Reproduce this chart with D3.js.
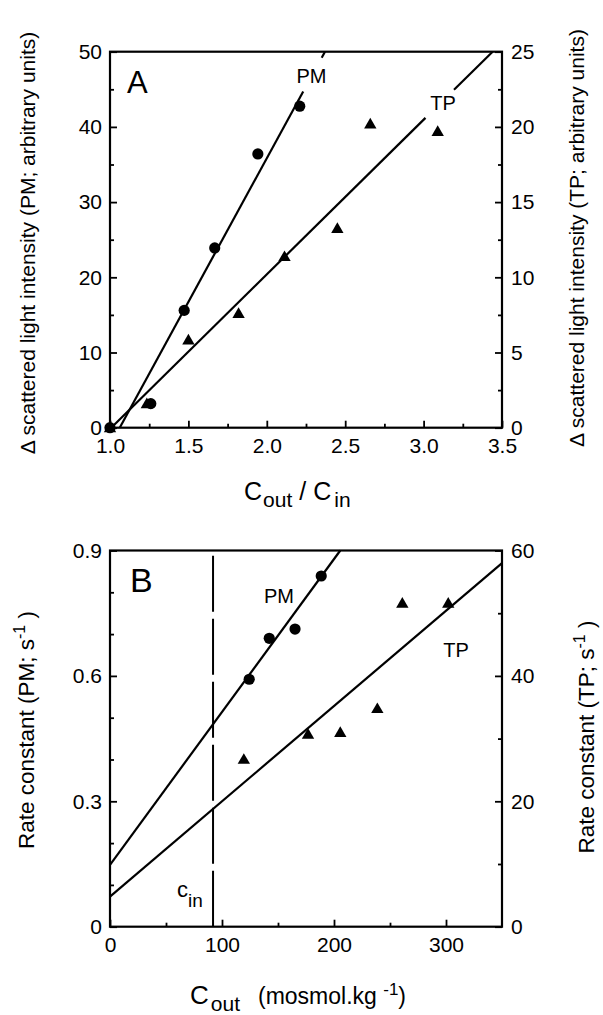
<!DOCTYPE html>
<html><head><meta charset="utf-8">
<script src="https://cdn.jsdelivr.net/npm/d3@7"></script>
<style>
html,body{margin:0;padding:0;background:#fff;}
svg{display:block;font-family:"Liberation Sans",Arial,Helvetica,sans-serif;}
</style></head>
<body>
<script>
// ---------- Panel A data ----------
const aPM_x = [1.0, 1.26, 1.473, 1.668, 1.943, 2.21];
const aPM_y = [0, 3.2, 15.6, 23.9, 36.4, 42.75];
const aTP_x = [1.0, 1.235, 1.50, 1.82, 2.113, 2.45, 2.66, 3.09];
const aTP_y = [0, 1.6, 5.84, 7.6, 11.38, 13.25, 20.2, 19.7];
const aFitPM = [[1.062, 0], [2.371, 50]];        // PM units
const aFitTP = [[1.008, 0], [3.44, 25]];         // TP units
const aGapPM = [44.7, 49.2];                      // PM-unit y range hidden by label
const aGapTP = [20.6, 22.47];                     // TP-unit y range hidden by label
const aXTicks = [1.0, 1.5, 2.0, 2.5, 3.0, 3.5];
const aXMinor = [1.25, 1.75, 2.25, 2.75, 3.25];
const aYTicks = [0, 10, 20, 30, 40, 50];
const aYMinor = [5, 15, 25, 35, 45];
const aY2Ticks = [0, 5, 10, 15, 20, 25];
const aY2Minor = [2.5, 7.5, 12.5, 17.5, 22.5];

// ---------- Panel B data ----------
const bPM_x = [124.3, 142.2, 165.2, 188.6];
const bPM_y = [0.592, 0.690, 0.712, 0.839];
const bTP_x = [119.5, 176.8, 205.6, 238.7, 261, 302];
const bTP_y = [26.7, 30.7, 31.0, 34.8, 51.6, 51.6];
const bFitPM = [[0, 0.148], [205.6, 0.9]];
const bFitTP = [[0, 4.8], [350, 58]];
const bCin = 92;
const bXTicks = [0, 100, 200, 300];
const bXMinor = [50, 150, 250];
const bYTicks = [0, 0.3, 0.6, 0.9];
const bYMinor = [0.1, 0.2, 0.4, 0.5, 0.7, 0.8];
const bY2Ticks = [0, 20, 40, 60];
const bY2Minor = [10, 30, 50];

const W = 603, H = 1015;
const svg = d3.select("body").append("svg").attr("width", W).attr("height", H);

const L = 110, R = 502;
const FS = 21;

function frame(x0, x1, y0, y1) {
  svg.append("rect").attr("x", x0).attr("y", y1).attr("width", x1 - x0).attr("height", y0 - y1)
    .attr("fill", "none").attr("stroke", "#000").attr("stroke-width", 2.2);
}
function styleAxis(sel) {
  sel.select(".domain").remove();
  sel.selectAll(".tick line").attr("stroke", "#000").attr("stroke-width", 1.8);
  sel.selectAll(".tick text").attr("font-size", FS).attr("font-family", "Liberation Sans, Arial, sans-serif").attr("fill", "#000");
}
function axes(x, y, y2, xt, xm, yt, ym, y2t, y2m, xfmt, yfmt, y2fmt) {
  const base = y.range()[0];
  const gx = svg.append("g").attr("transform", `translate(0,${base})`)
    .call(d3.axisBottom(x).tickValues(xt).tickSize(-7).tickPadding(10).tickFormat(xfmt));
  styleAxis(gx);
  const gxm = svg.append("g").attr("transform", `translate(0,${base})`)
    .call(d3.axisBottom(x).tickValues(xm).tickSize(-4).tickFormat(""));
  styleAxis(gxm);
  const gy = svg.append("g").attr("transform", `translate(${L},0)`)
    .call(d3.axisLeft(y).tickValues(yt).tickSize(-7).tickPadding(8).tickFormat(yfmt));
  styleAxis(gy);
  const gym = svg.append("g").attr("transform", `translate(${L},0)`)
    .call(d3.axisLeft(y).tickValues(ym).tickSize(-4).tickFormat(""));
  styleAxis(gym);
  const gy2 = svg.append("g").attr("transform", `translate(${R},0)`)
    .call(d3.axisRight(y2).tickValues(y2t).tickSize(-7).tickPadding(9).tickFormat(y2fmt));
  styleAxis(gy2);
  const gy2m = svg.append("g").attr("transform", `translate(${R},0)`)
    .call(d3.axisRight(y2).tickValues(y2m).tickSize(-4).tickFormat(""));
  styleAxis(gy2m);
}
function circles(x, y, xs, ys) {
  svg.append("g").selectAll("circle").data(xs.map((v, i) => [v, ys[i]])).join("circle")
    .attr("cx", d => x(d[0])).attr("cy", d => y(d[1])).attr("r", 5.6).attr("fill", "#000");
}
function triangles(x, y, xs, ys) {
  const sym = d3.symbol().type(d3.symbolTriangle).size(66);
  svg.append("g").selectAll("path").data(xs.map((v, i) => [v, ys[i]])).join("path")
    .attr("d", sym).attr("transform", d => `translate(${x(d[0])},${y(d[1]) + 1})`).attr("fill", "#000");
}
function fitLine(x, y, pts, gap) {
  const [p0, p1] = pts;
  const at = v => p0[0] + (v - p0[1]) * (p1[0] - p0[0]) / (p1[1] - p0[1]);
  const segs = gap ? [[p0, [at(gap[0]), gap[0]]], [[at(gap[1]), gap[1]], p1]] : [[p0, p1]];
  const line = d3.line().x(d => x(d[0])).y(d => y(d[1]));
  segs.forEach(s => svg.append("path").attr("d", line(s)).attr("fill", "none")
    .attr("stroke", "#000").attr("stroke-width", 2.2));
}
function vtext(x, y, fs) {
  return svg.append("text").attr("transform", `translate(${x},${y}) rotate(-90)`)
    .attr("text-anchor", "middle").attr("font-size", fs).attr("fill", "#000");
}

// ================= Panel A =================
const xA = d3.scaleLinear().domain([1, 3.5]).range([L, R]);
const yA = d3.scaleLinear().domain([0, 50]).range([427.7, 51.7]);
const yA2 = d3.scaleLinear().domain([0, 25]).range([427.7, 51.7]);
axes(xA, yA, yA2, aXTicks, aXMinor, aYTicks, aYMinor, aY2Ticks, aY2Minor,
  d3.format(".1f"), d3.format("d"), d3.format("d"));
frame(L, R, 427.7, 51.7);
fitLine(xA, yA, aFitPM, aGapPM);
fitLine(xA, yA2, aFitTP, aGapTP);
triangles(xA, yA2, aTP_x, aTP_y);
circles(xA, yA, aPM_x, aPM_y);

svg.append("text").attr("x", 127).attr("y", 93).attr("font-size", 31).text("A");
svg.append("text").attr("x", 311.5).attr("y", 83).attr("font-size", 20).attr("text-anchor", "middle").text("PM");
svg.append("text").attr("x", 443).attr("y", 110).attr("font-size", 20).attr("text-anchor", "middle").text("TP");

vtext(35, 243, 21).text("Δ scattered light intensity (PM; arbitrary units)");
vtext(584, 238, 21).text("Δ scattered light intensity (TP; arbitrary units)");

const tA = svg.append("text").attr("x", 244).attr("y", 500).attr("font-size", 25);
tA.append("tspan").text("C");
tA.append("tspan").attr("dy", 7).attr("dx", 1).attr("font-size", 21).text("out");
tA.append("tspan").attr("dy", -7).attr("dx", 7).text("/");
tA.append("tspan").attr("dx", 7).text("C");
tA.append("tspan").attr("dy", 7).attr("dx", 3).attr("font-size", 21).text("in");

// ================= Panel B =================
const xB = d3.scaleLinear().domain([0, 350]).range([L, R]);
const yB = d3.scaleLinear().domain([0, 0.9]).range([926.7, 550.5]);
const yB2 = d3.scaleLinear().domain([0, 60]).range([926.7, 550.5]);
axes(xB, yB, yB2, bXTicks, bXMinor, bYTicks, bYMinor, bY2Ticks, bY2Minor,
  d3.format("d"), d => d === 0 ? "0" : d3.format(".1f")(d), d3.format("d"));
frame(L, R, 926.7, 550.5);
svg.append("line").attr("x1", xB(bCin)).attr("x2", xB(bCin)).attr("y1", yB(0)).attr("y2", yB(0.9))
  .attr("stroke", "#000").attr("stroke-width", 2).attr("stroke-dasharray", "56,7");
fitLine(xB, yB, bFitPM, null);
fitLine(xB, yB2, bFitTP, null);
triangles(xB, yB2, bTP_x, bTP_y);
circles(xB, yB, bPM_x, bPM_y);

svg.append("text").attr("x", 130).attr("y", 591.7).attr("font-size", 34).text("B");
svg.append("text").attr("x", 279).attr("y", 603).attr("font-size", 20).attr("text-anchor", "middle").text("PM");
svg.append("text").attr("x", 456).attr("y", 657).attr("font-size", 20).attr("text-anchor", "middle").text("TP");
const cin = svg.append("text").attr("x", 177).attr("y", 897).attr("font-size", 22);
cin.append("tspan").text("c");
cin.append("tspan").attr("dy", 10).attr("font-size", 19).text("in");

const lb = vtext(34, 730, 22.5);
lb.append("tspan").text("Rate constant (PM; s");
lb.append("tspan").attr("dy", -9).attr("font-size", 16).text("-1");
lb.append("tspan").attr("dy", 9).text(" )");
const rb = vtext(594, 737, 22.5);
rb.append("tspan").text("Rate constant (TP; s");
rb.append("tspan").attr("dy", -9).attr("font-size", 16).text("-1");
rb.append("tspan").attr("dy", 9).text(" )");

const tB = svg.append("text").attr("x", 190).attr("y", 1004).attr("font-size", 26);
tB.append("tspan").text("C");
tB.append("tspan").attr("dy", 7).attr("dx", 2).attr("font-size", 21).text("out");
tB.append("tspan").attr("dy", -7).attr("font-size", 23).attr("dx", 18).text("(mosmol.kg ");
tB.append("tspan").attr("dy", -9).attr("font-size", 17).text("-1");
tB.append("tspan").attr("dy", 9).attr("font-size", 23).text(")");
</script>
</body></html>
